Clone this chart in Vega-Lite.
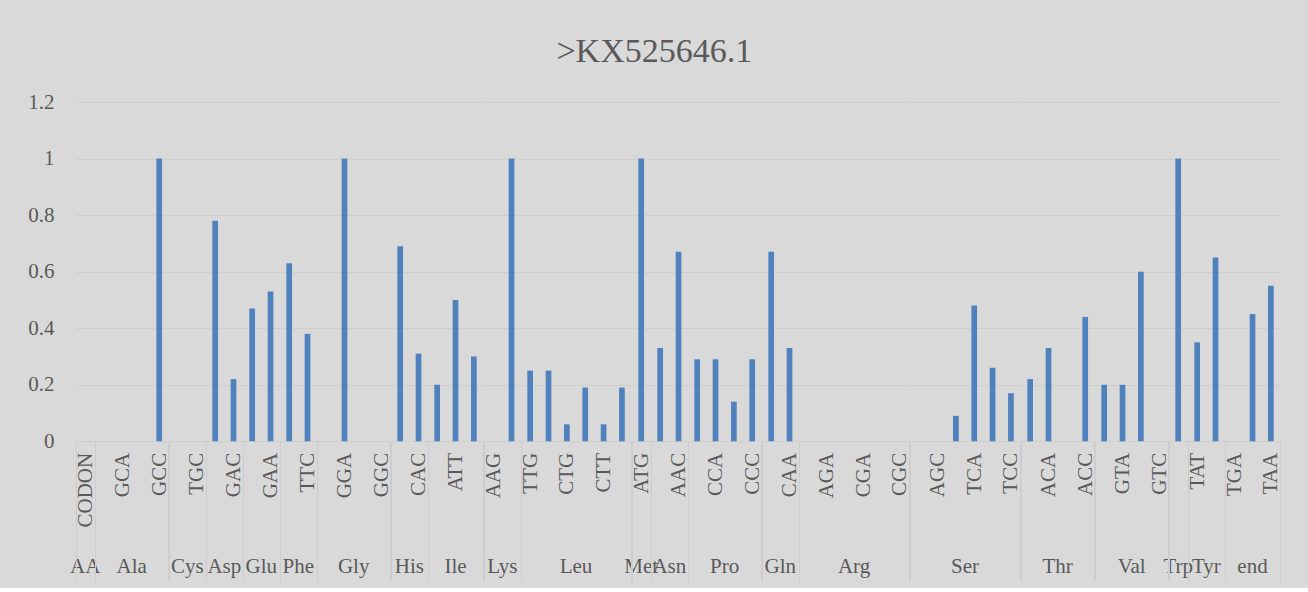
{
  "$schema": "https://vega.github.io/schema/vega-lite/v6.json",
  "background": "#d9d9d9",
  "padding": {"left": 27, "top": 35, "right": 42, "bottom": 6},
  "bounds": "flush",
  "title": {"text": ">KX525646.1", "font": "Liberation Serif", "fontSize": 34, "fontWeight": "normal", "color": "#595959", "anchor": "middle", "frame": "bounds", "offset": 22},
  "data": {"values": [
    {"aa": "AA", "codon": "CODON", "value": 0},
    {"aa": "Ala", "codon": "GCT", "value": 0},
    {"aa": "Ala", "codon": "GCA", "value": 0},
    {"aa": "Ala", "codon": "GCG", "value": 0},
    {"aa": "Ala", "codon": "GCC", "value": 1},
    {"aa": "Cys", "codon": "TGT", "value": 0},
    {"aa": "Cys", "codon": "TGC", "value": 0},
    {"aa": "Asp", "codon": "GAT", "value": 0.78},
    {"aa": "Asp", "codon": "GAC", "value": 0.22},
    {"aa": "Glu", "codon": "GAG", "value": 0.47},
    {"aa": "Glu", "codon": "GAA", "value": 0.53},
    {"aa": "Phe", "codon": "TTT", "value": 0.63},
    {"aa": "Phe", "codon": "TTC", "value": 0.38},
    {"aa": "Gly", "codon": "GGT", "value": 0},
    {"aa": "Gly", "codon": "GGA", "value": 1},
    {"aa": "Gly", "codon": "GGG", "value": 0},
    {"aa": "Gly", "codon": "GGC", "value": 0},
    {"aa": "His", "codon": "CAT", "value": 0.69},
    {"aa": "His", "codon": "CAC", "value": 0.31},
    {"aa": "Ile", "codon": "ATC", "value": 0.2},
    {"aa": "Ile", "codon": "ATT", "value": 0.5},
    {"aa": "Ile", "codon": "ATA", "value": 0.3},
    {"aa": "Lys", "codon": "AAG", "value": 0},
    {"aa": "Lys", "codon": "AAA", "value": 1},
    {"aa": "Leu", "codon": "TTG", "value": 0.25},
    {"aa": "Leu", "codon": "TTA", "value": 0.25},
    {"aa": "Leu", "codon": "CTG", "value": 0.06},
    {"aa": "Leu", "codon": "CTA", "value": 0.19},
    {"aa": "Leu", "codon": "CTT", "value": 0.06},
    {"aa": "Leu", "codon": "CTC", "value": 0.19},
    {"aa": "Met", "codon": "ATG", "value": 1},
    {"aa": "Asn", "codon": "AAT", "value": 0.33},
    {"aa": "Asn", "codon": "AAC", "value": 0.67},
    {"aa": "Pro", "codon": "CCT", "value": 0.29},
    {"aa": "Pro", "codon": "CCA", "value": 0.29},
    {"aa": "Pro", "codon": "CCG", "value": 0.14},
    {"aa": "Pro", "codon": "CCC", "value": 0.29},
    {"aa": "Gln", "codon": "CAG", "value": 0.67},
    {"aa": "Gln", "codon": "CAA", "value": 0.33},
    {"aa": "Arg", "codon": "AGG", "value": 0},
    {"aa": "Arg", "codon": "AGA", "value": 0},
    {"aa": "Arg", "codon": "CGG", "value": 0},
    {"aa": "Arg", "codon": "CGA", "value": 0},
    {"aa": "Arg", "codon": "CGT", "value": 0},
    {"aa": "Arg", "codon": "CGC", "value": 0},
    {"aa": "Ser", "codon": "AGT", "value": 0},
    {"aa": "Ser", "codon": "AGC", "value": 0},
    {"aa": "Ser", "codon": "TCG", "value": 0.09},
    {"aa": "Ser", "codon": "TCA", "value": 0.48},
    {"aa": "Ser", "codon": "TCT", "value": 0.26},
    {"aa": "Ser", "codon": "TCC", "value": 0.17},
    {"aa": "Thr", "codon": "ACT", "value": 0.22},
    {"aa": "Thr", "codon": "ACA", "value": 0.33},
    {"aa": "Thr", "codon": "ACG", "value": 0},
    {"aa": "Thr", "codon": "ACC", "value": 0.44},
    {"aa": "Val", "codon": "GTT", "value": 0.2},
    {"aa": "Val", "codon": "GTA", "value": 0.2},
    {"aa": "Val", "codon": "GTG", "value": 0.6},
    {"aa": "Val", "codon": "GTC", "value": 0},
    {"aa": "Trp", "codon": "TGG", "value": 1},
    {"aa": "Tyr", "codon": "TAT", "value": 0.35},
    {"aa": "Tyr", "codon": "TAC", "value": 0.65},
    {"aa": "end", "codon": "TGA", "value": 0},
    {"aa": "end", "codon": "TAG", "value": 0.45},
    {"aa": "end", "codon": "TAA", "value": 0.55}
  ]},
  "facet": {
    "column": {
      "field": "aa", "type": "nominal",
      "sort": ["AA","Ala","Cys","Asp","Glu","Phe","Gly","His","Ile","Lys","Leu","Met","Asn","Pro","Gln","Arg","Ser","Thr","Val","Trp","Tyr","end"],
      "header": {"title": null, "labelOrient": "bottom", "labelFont": "Liberation Serif", "labelFontSize": 21, "labelColor": "#595959", "labelPadding": 114, "labelBaseline": "top"}
    }
  },
  "spacing": 0,
  "resolve": {"scale": {"x": "independent"}},
  "spec": {
    "width": {"step": 18.35},
    "height": 339.3,
    "mark": {"type": "bar", "color": "#4f81bd", "width": {"band": 0.31}},
    "encoding": {
      "x": {
        "field": "codon", "type": "nominal", "sort": null,
        "scale": {"paddingInner": 0, "paddingOuter": 0},
        "axis": {
          "title": null, "labelAngle": -90, "labelFont": "Liberation Serif", "labelFontSize": 21, "labelColor": "#595959",
          "labelPadding": -129, "tickBand": "extent", "tickSize": 140, "tickColor": "#cdcdcd", "tickWidth": 1,
          "tickOpacity": {"condition": {"test": "datum.index < 0 || datum.index == 1", "value": 1}, "value": 0},
          "domain": false, "labelOverlap": false,
          "labelExpr": "indexof(['CODON','GCA','GCC','TGC','GAC','GAA','TTC','GGA','GGC','CAC','ATT','AAG','TTG','CTG','CTT','ATG','AAC','CCA','CCC','CAA','AGA','CGA','CGC','AGC','TCA','TCC','ACA','ACC','GTA','GTC','TAT','TGA','TAA'], datum.value) >= 0 ? datum.value : ''"
        }
      },
      "y": {
        "field": "value", "type": "quantitative",
        "scale": {"domain": [0, 1.2]},
        "axis": {
          "title": null, "values": [0, 0.2, 0.4, 0.6, 0.8, 1, 1.2], "format": "~g",
          "domain": false, "ticks": false, "labelFont": "Liberation Serif", "labelFontSize": 21, "labelColor": "#595959",
          "labelPadding": 22, "gridColor": "#cecece", "gridWidth": 1
        }
      }
    }
  },
  "config": {"view": {"stroke": null}}
}
